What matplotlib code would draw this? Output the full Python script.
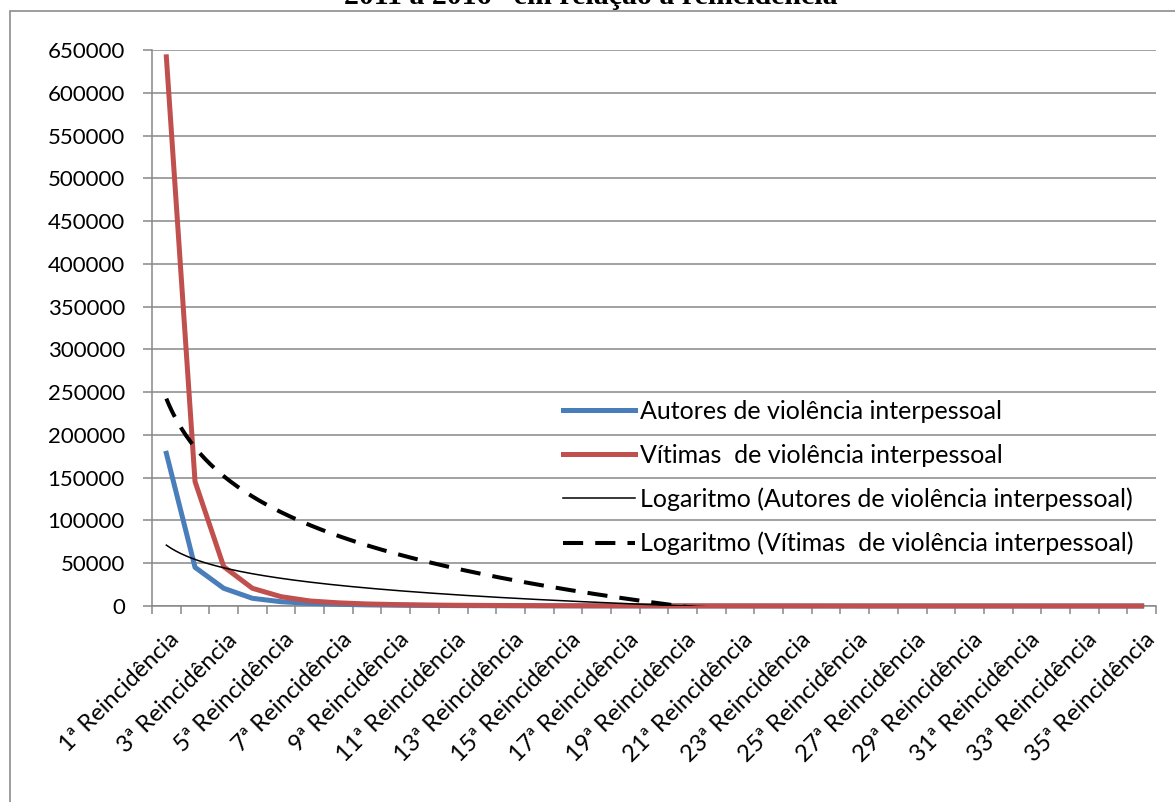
import numpy as np
import matplotlib
matplotlib.use('Agg')
import matplotlib.pyplot as plt
import matplotlib.transforms as mtransforms
from matplotlib.patches import Rectangle

plt.rcParams['font.family'] = ['Lato', 'DejaVu Sans']

# data
categorias = [f'{i}ª Reincidência' for i in range(1, 36)]
autores = [178500, 45200, 20700, 9000, 5000, 3100, 2000, 1300, 900, 650,
           480, 360, 270, 210, 160, 125, 100, 80, 65, 52,
           42, 35, 28, 23, 19, 16, 13, 11, 9, 7,
           6, 5, 4, 3, 2]
vitimas = [642000, 145500, 46000, 20700, 10900, 5900, 3700, 2400, 1700, 1200,
           900, 700, 520, 400, 310, 250, 200, 160, 130, 105,
           85, 70, 57, 47, 39, 32, 26, 21, 17, 14,
           11, 9, 7, 5, 4]
rotulo_autores = 'Autores de violência interpessoal'
rotulo_vitimas = 'Vítimas  de violência interpessoal'
titulo = '2011 a 2016” em relação à reincidência'

x = np.arange(1, len(categorias) + 1)

# logarithmic trend lines (least squares on ln(x), like Excel)
xs = np.linspace(1, len(categorias), 400)
a1, b1 = np.polyfit(np.log(x), autores, 1)
a2, b2 = np.polyfit(np.log(x), vitimas, 1)

fig = plt.figure(figsize=(11.75, 8.02), dpi=100)
ax = fig.add_axes([152/1175, 1 - 606/802, 1004/1175, 556/802])

grid_c = '#878787'
ax.plot(x, autores, color='#4a7ebb', lw=3.6, label=rotulo_autores, clip_on=False, zorder=3, solid_joinstyle='round')
ax.plot(x, vitimas, color='#c0504d', lw=3.6, label=rotulo_vitimas, clip_on=False, zorder=4, solid_joinstyle='round')
ax.plot(xs, a1*np.log(xs) + b1, color='black', lw=1.1, label='Logaritmo (' + rotulo_autores + ')', zorder=5)
ax.plot(xs, a2*np.log(xs) + b2, color='black', lw=2.9, ls=(0, (5, 3)), label='Logaritmo (' + rotulo_vitimas + ')', zorder=5)

ax.set_xlim(0.5, len(categorias) + 0.5)
ax.set_ylim(0, 650000)
ax.set_yticks(np.arange(0, 650001, 50000))
ax.set_yticklabels([str(v) for v in range(0, 650001, 50000)], fontsize=16)
ax.yaxis.grid(True, color=grid_c, lw=1.1)
ax.set_axisbelow(True)

ax.set_xticks(x[::2])
ax.set_xticklabels(categorias[::2], fontsize=17, rotation=45, ha='right', va='center', rotation_mode='anchor')
ax.set_xticks(np.arange(0.5, len(categorias) + 1), minor=True)
ax.tick_params(axis='x', which='major', length=0, pad=22)
ax.tick_params(axis='x', which='minor', length=6, width=1.1, color=grid_c, direction='out')
ax.tick_params(axis='y', length=6.5, width=1.1, color=grid_c, pad=13)
offset = mtransforms.ScaledTranslation(7/72, 0, fig.dpi_scale_trans)
for lab in ax.get_xticklabels():
    lab.set_transform(lab.get_transform() + offset)

for s in ['top', 'right']:
    ax.spines[s].set_visible(False)
for s in ['left', 'bottom']:
    ax.spines[s].set_color(grid_c)
    ax.spines[s].set_linewidth(1.1)

ax.legend(loc='upper left', bbox_to_anchor=((563-152)/1004, (606-400)/556), frameon=False,
          fontsize=18, handlelength=2.88, handletextpad=0.2, labelspacing=0.83,
          borderpad=0, borderaxespad=0)

fig.text(591/1175, 1 - 3.5/802, titulo, ha='center', va='baseline',
         family='Liberation Serif', weight='bold', fontsize=21.5)
fig.patches.append(Rectangle((10/1175, -0.1), 2, 1.1 - 11/802, transform=fig.transFigure,
                             fill=False, edgecolor='#8c8c8c', lw=1.2))

fig.savefig('out.png', dpi=100)
